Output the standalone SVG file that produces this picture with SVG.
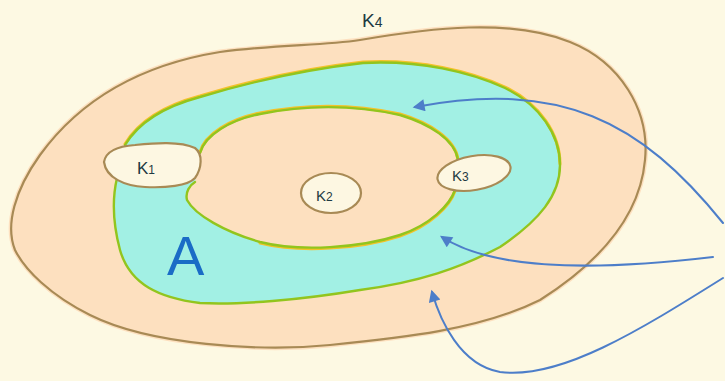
<svg xmlns="http://www.w3.org/2000/svg" width="725" height="381" viewBox="0 0 725 381">
  <style>
    .bg { fill: #fdf9e3; }
    .peach { fill: #fde0bf; stroke: #fde0bf; stroke-width: 5; }
    .brown { fill: none; stroke: #a88a55; stroke-width: 2.2; stroke-linejoin: round; }
    .ring { fill: #a2f0e4; fill-rule: evenodd; }
    .yel { fill: none; stroke: #f4c22a; stroke-width: 3; stroke-linecap: round; }
    .grn { fill: none; stroke: #92c51e; stroke-width: 2.4; stroke-linecap: round; }
    .blob { fill: #fdf7e2; stroke: #a88a55; stroke-width: 2.2; }
    .lbl { font-family: "Liberation Sans", "DejaVu Sans", sans-serif; fill: #1d3a42; }
    .big { font-family: "Liberation Sans", "DejaVu Sans", sans-serif; fill: #1a6cc6; font-size: 56px; }
    .arr { fill: none; stroke: #4d7ec9; stroke-width: 2; stroke-linecap: round; }
  </style>
  <defs>
    <marker id="head" viewBox="0 0 10 10" refX="8" refY="5" markerUnits="userSpaceOnUse" markerWidth="15" markerHeight="12" orient="auto">
      <path d="M0,0 L10,5 L0,10 z" fill="#4d7ec9"/>
    </marker>
  </defs>
  <rect class="bg" x="0" y="0" width="725" height="381"/>

  <g id="K4">
    <path class="peach" d="M360,40 C430,28 510,18 570,42 C620,62 650,110 645,160 C640,215 600,262 540,300 C480,330 400,338 330,345 C260,352 150,345 90,315 C50,295 25,270 15,250 C5,225 15,190 40,155 C80,100 140,65 220,52 C280,44 320,46 360,40 Z"/>
    <path class="brown" d="M360,40 C430,28 510,18 570,42 C620,62 650,110 645,160 C640,215 600,262 540,300 C480,330 400,338 330,345 C260,352 150,345 90,315 C50,295 25,270 15,250 C5,225 15,190 40,155 C80,100 140,65 220,52 C280,44 320,46 360,40 Z"/>
    <text class="lbl" x="362" y="27" font-size="19">K<tspan font-size="14">4</tspan></text>
  </g>

  <g id="A">
    <path class="ring" d="M125,145 C140,120 170,105 200,97 C250,82 300,70 363,63 C420,60 470,72 505,88 C540,105 560,135 560,165 C560,195 540,220 500,247 C460,268 420,282 360,290 C300,300 240,305 200,303 C160,298 130,285 120,250 C112,220 113,195 117,178 Z M200,153 C205,135 230,120 260,114 C300,106 350,104 400,115 C430,124 455,140 458,160 L455,190 C450,205 430,225 400,235 C360,248 300,252 260,242 C225,232 195,215 187,200 C185,192 190,185 195,182 Z"/>
    <path class="yel" d="M125,144 C140,119 170,104 200,96 C250,81 300,69 363,62 C420,59 470,71 505,87 C540,104 560,134 560,164"/>
    <path class="yel" d="M200,152 C205,134 230,119 260,113 C300,105 350,103 400,114 C430,123 455,139 458,159"/>
    <path class="yel" d="M455,191 C450,206 430,226 400,236 C360,249 300,253 260,243"/>
    <path class="grn" d="M125,145 C140,120 170,105 200,97 C250,82 300,70 363,63 C420,60 470,72 505,88 C540,105 560,135 560,165 C560,195 540,220 500,247 C460,268 420,282 360,290 C300,300 240,305 200,303 C160,298 130,285 120,250 C112,220 113,195 117,178"/>
    <path class="grn" d="M200,153 C205,135 230,120 260,114 C300,106 350,104 400,115 C430,124 455,140 458,160"/>
    <path class="grn" d="M455,190 C450,205 430,225 400,235 C360,248 300,252 260,242 C225,232 195,215 187,200 C185,192 190,185 195,182"/>
    <text class="big" x="167" y="275">A</text>
  </g>

  <g id="K1">
    <path class="blob" d="M104,162 C106,150 120,146 135,145 C155,143 180,141 195,148 C203,154 202,168 195,178 C188,186 165,188 145,187 C125,186 106,178 104,162 Z"/>
    <text class="lbl" x="137" y="174" font-size="17">K<tspan font-size="12">1</tspan></text>
  </g>

  <g id="K2">
    <ellipse class="blob" cx="331" cy="193" rx="30" ry="20"/>
    <text class="lbl" x="316" y="201" font-size="15">K<tspan font-size="12">2</tspan></text>
  </g>

  <g id="K3">
    <ellipse class="blob" cx="474" cy="173" rx="37" ry="17" transform="rotate(-10 474 173)"/>
    <text class="lbl" x="452" y="181" font-size="15">K<tspan font-size="12">3</tspan></text>
  </g>

  <g id="connectors">
    <path class="arr" marker-end="url(#head)" d="M723,223 C640,120 560,80 415,107"/>
    <path class="arr" marker-end="url(#head)" d="M713,257 C620,268 500,275 442,237"/>
    <path class="arr" marker-end="url(#head)" d="M723,278 C640,330 560,380 500,372 C460,365 440,320 432,292"/>
  </g>
</svg>
